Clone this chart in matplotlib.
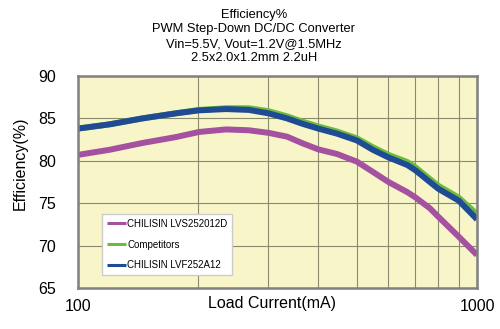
import numpy as np
from matplotlib import pyplot as plt

plt.rcParams['font.family'] = ['Liberation Sans', 'DejaVu Sans']

# load current (mA) and efficiency (%)
current = [100, 120, 145, 176, 201, 235, 268, 300, 334, 366, 400, 446, 500,
           548, 600, 669, 700, 762, 800, 900, 1000]
lvs252012d = [80.7, 81.3, 82.1, 82.8, 83.4, 83.7, 83.6, 83.3, 82.85, 82.05,
              81.35, 80.8, 79.9, 78.7, 77.5, 76.3, 75.7, 74.4, 73.4, 71.05, 68.9]
competitors = [83.8, 84.3, 85.0, 85.6, 86.0, 86.2, 86.2, 85.85, 85.25, 84.6,
               84.05, 83.45, 82.65, 81.6, 80.7, 79.85, 79.25, 77.85, 77.05, 75.65, 73.7]
lvf252a12 = [83.8, 84.3, 85.0, 85.6, 85.95, 86.1, 86.0, 85.6, 85.0, 84.35,
             83.8, 83.2, 82.4, 81.3, 80.4, 79.5, 78.9, 77.5, 76.7, 75.3, 73.1]

title_lines = ["Efficiency%", "PWM Step-Down DC/DC Converter",
               "Vin=5.5V, Vout=1.2V@1.5MHz", "2.5x2.0x1.2mm 2.2uH"]
yticks = [65, 70, 75, 80, 85, 90]

fig = plt.figure(figsize=(5, 3.29), dpi=100)
ax = fig.add_axes([78 / 500, 1 - 288 / 329, 399 / 500, 212 / 329])
ax.set_facecolor("#f8f5c9")

style = dict(lw=4.3, solid_capstyle="butt", solid_joinstyle="round")
l2, = ax.plot(current, competitors, color="#6dbb3a", label="Competitors", **style)
l3, = ax.plot(current, lvf252a12, color="#1f4b95", label="CHILISIN LVF252A12", **style)
l1, = ax.plot(current, lvs252012d, color="#a4519f", label="CHILISIN LVS252012D", **style)

ax.set_xscale("log")
ax.set_xlim(100, 1000)
ax.set_ylim(65, 90)
ax.set_yticks(yticks)
ax.set_xticks([100, 1000])
ax.set_xticks([200, 300, 400, 500, 600, 700, 800, 900], minor=True)
ax.set_xticklabels(["100", "1000"])
ax.xaxis.set_minor_formatter(plt.NullFormatter())
ax.tick_params(which="both", length=0, labelsize=11.5)
ax.tick_params(axis="x", pad=8)
ax.tick_params(axis="y", pad=16)
ax.grid(True, which="both", color="#8a8a6e", lw=0.8)
ax.set_axisbelow(True)
for s in ax.spines.values():
    s.set_color("#808080")
    s.set_linewidth(1.8)

ax.set_xlabel("Load Current(mA)", fontsize=11.5)
ax.xaxis.set_label_coords(0.485, -0.04, transform=ax.transAxes)
ax.xaxis.label.set_va("top")
ax.set_ylabel("Efficiency(%)", fontsize=11.5)
ax.yaxis.set_label_coords(20 / 500, 1 - 163 / 329, transform=fig.transFigure)
ax.yaxis.label.set_va("center")

fig.text(0.508, 0.972, "\n".join(title_lines), ha="center", va="top",
         fontsize=9.3, linespacing=1.25)

leg = ax.legend(handles=[l1, l2, l3], loc="lower left",
                bbox_to_anchor=(0.06, 0.061), borderaxespad=0, fontsize=7,
                handlelength=2.0, handletextpad=0.1, labelspacing=1.1,
                fancybox=False, framealpha=1, edgecolor="#cccccc",
                borderpad=0.5)
for line in leg.get_lines():
    line.set_linewidth(2.2)

fig.savefig("out.png", dpi=100)
